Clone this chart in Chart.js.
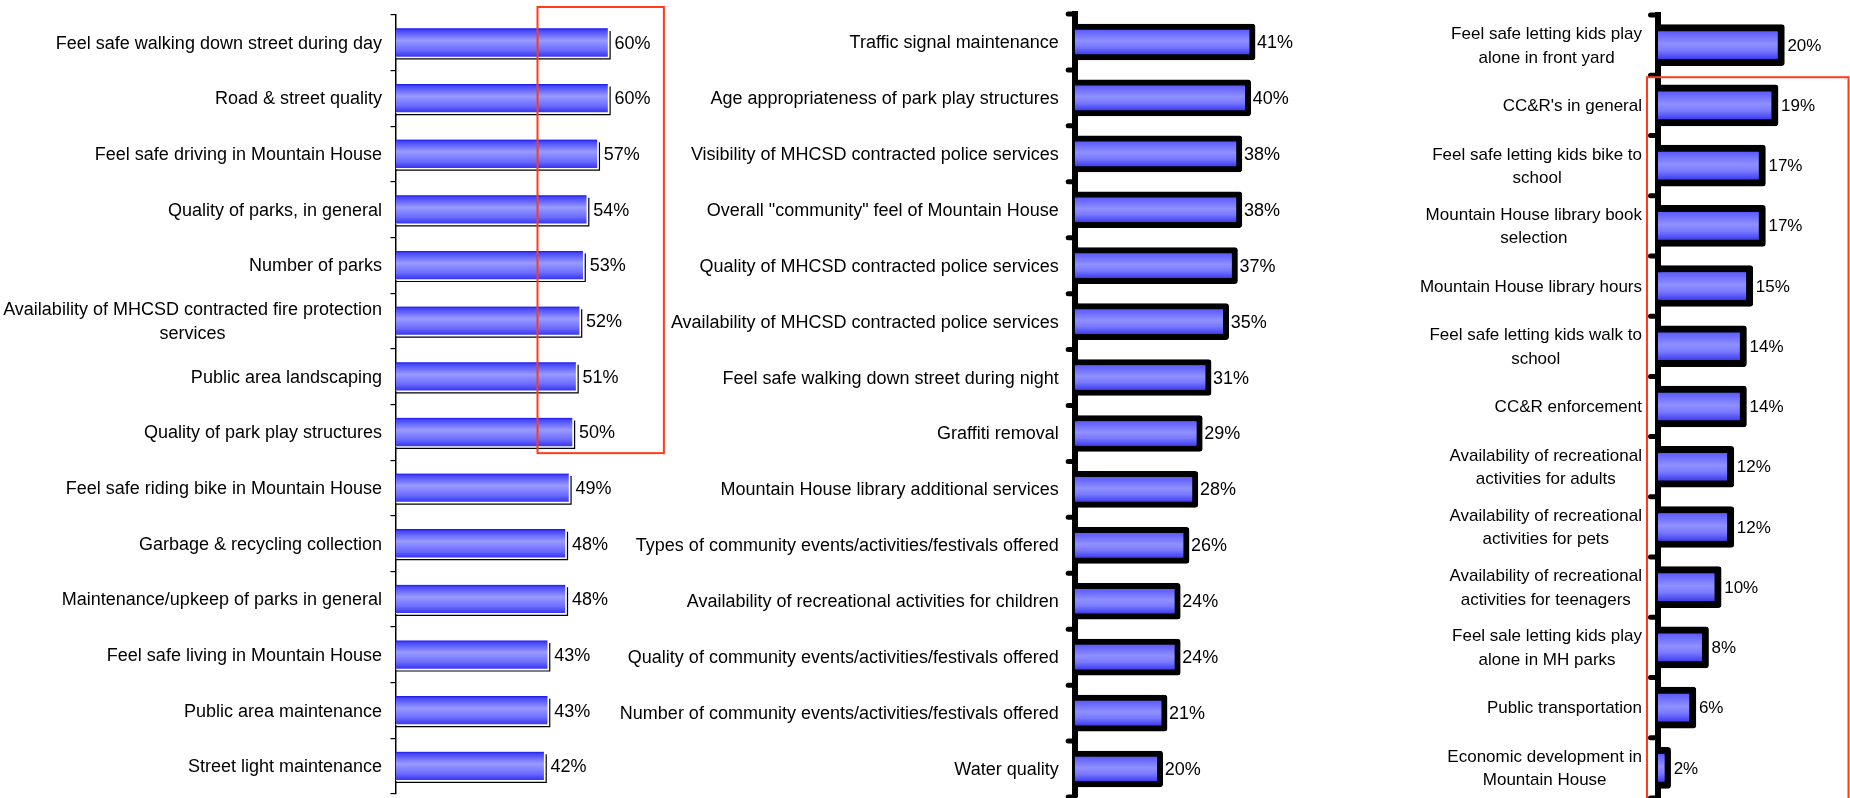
<!DOCTYPE html>
<html>
<head>
<meta charset="utf-8">
<title>Mountain House resident ratings</title>
<script src="https://cdn.jsdelivr.net/npm/chart.js@4.4.1/dist/chart.umd.min.js"></script>
<style>
  html, body { margin: 0; padding: 0; background: #fff; }
  body { width: 1850px; height: 798px; position: relative; overflow: hidden; }
  canvas { position: absolute; top: 0; }
</style>
</head>
<body>
<canvas id="chartLeft" width="700" height="798" style="left:0px"></canvas>
<canvas id="chartMid" width="800" height="798" style="left:560px"></canvas>
<canvas id="chartRight" width="470" height="798" style="left:1380px"></canvas>
<script>
// ---- data: share of respondents (%) per item, three panels ----
const leftLabels = [
  'Feel safe walking down street during day',
  'Road & street quality',
  'Feel safe driving in Mountain House',
  'Quality of parks, in general',
  'Number of parks',
  ['Availability of MHCSD contracted fire protection', 'services'],
  'Public area landscaping',
  'Quality of park play structures',
  'Feel safe riding bike in Mountain House',
  'Garbage & recycling collection',
  'Maintenance/upkeep of parks in general',
  'Feel safe living in Mountain House',
  'Public area maintenance',
  'Street light maintenance'
];
const leftValues = [60, 60, 57, 54, 53, 52, 51, 50, 49, 48, 48, 43, 43, 42];

const midLabels = [
  'Traffic signal maintenance',
  'Age appropriateness of park play structures',
  'Visibility of MHCSD contracted police services',
  'Overall "community" feel of Mountain House',
  'Quality of MHCSD contracted police services',
  'Availability of MHCSD contracted police services',
  'Feel safe walking down street during night',
  'Graffiti removal',
  'Mountain House library additional services',
  'Types of community events/activities/festivals offered',
  'Availability of recreational activities for children',
  'Quality of community events/activities/festivals offered',
  'Number of community events/activities/festivals offered',
  'Water quality'
];
const midValues = [41, 40, 38, 38, 37, 35, 31, 29, 28, 26, 24, 24, 21, 20];

const rightLabels = [
  ['Feel safe letting kids play', 'alone in front yard'],
  "CC&R's in general",
  ['Feel safe letting kids bike to', 'school'],
  ['Mountain House library book', 'selection'],
  'Mountain House library hours',
  ['Feel safe letting kids walk to', 'school'],
  'CC&R enforcement',
  ['Availability of recreational', 'activities for adults'],
  ['Availability of recreational', 'activities for pets'],
  ['Availability of recreational', 'activities for teenagers'],
  ['Feel sale letting kids play', 'alone in MH parks'],
  'Public transportation',
  ['Economic development in', 'Mountain House']
];
const rightValues = [20, 19, 17, 17, 15, 14, 14, 12, 12, 10, 8, 6, 2];

// ---- shared styling ----
const FONT = "'Liberation Sans', Arial, sans-serif";
const HIGHLIGHT = '#ff3b1a';

// vertical blue gradient across the visible fill of each bar
function barFill(thickness, inset, stops) {
  return (ctx) => {
    const chart = ctx.chart;
    const y = chart.scales && chart.scales.y;
    if (!chart.chartArea || !y) return '#8080ff';
    const c = y.getPixelForValue(ctx.dataIndex);
    const g = chart.ctx.createLinearGradient(0, c - thickness / 2 + inset, 0, c + thickness / 2 - inset);
    stops.forEach(([p, col]) => g.addColorStop(p, col));
    return g;
  };
}

// category names: each block right-aligned to the axis, wrapped lines centred within the block
const blockLabels = {
  id: 'blockLabels',
  afterDraw(chart, args, opts) {
    const ctx = chart.ctx;
    const y = chart.scales.y;
    const right = chart.chartArea.left - opts.gap;
    ctx.save();
    ctx.font = opts.size + 'px ' + FONT;
    ctx.fillStyle = '#000';
    ctx.textAlign = 'center';
    ctx.textBaseline = 'middle';
    chart.data.labels.forEach((label, i) => {
      const lines = Array.isArray(label) ? label : [label];
      const w = Math.max(...lines.map((t) => ctx.measureText(t).width));
      const cx = right - w / 2;
      const cy = y.getPixelForValue(i);
      lines.forEach((t, k) => {
        ctx.fillText(t, cx, cy + (k - (lines.length - 1) / 2) * opts.lineHeight + 1);
      });
    });
    ctx.restore();
  }
};

// value text just past the end of each bar
const valueLabels = {
  id: 'valueLabels',
  afterDatasetsDraw(chart, args, opts) {
    const ctx = chart.ctx;
    const meta = chart.getDatasetMeta(0);
    const data = chart.data.datasets[0].data;
    ctx.save();
    ctx.font = opts.size + 'px ' + FONT;
    ctx.fillStyle = '#000';
    ctx.textAlign = 'left';
    ctx.textBaseline = 'middle';
    meta.data.forEach((bar, i) => ctx.fillText(data[i] + '%', bar.x + opts.gap, bar.y + 1));
    ctx.restore();
  }
};

// thin drop shadow line under / right of the outlined bars
const barShadow = {
  id: 'barShadow',
  afterDatasetsDraw(chart, args, opts) {
    if (!opts.offset) return;
    const ctx = chart.ctx;
    const meta = chart.getDatasetMeta(0);
    ctx.save();
    ctx.strokeStyle = '#000';
    ctx.lineWidth = 1.2;
    meta.data.forEach((bar) => {
      const h = bar.height / 2;
      const right = bar.x + opts.offset;
      const bottom = bar.y + h + opts.offset;
      ctx.beginPath();
      ctx.moveTo(bar.base, bottom);
      ctx.lineTo(right, bottom);
      ctx.lineTo(right, bar.y - h + opts.offset + 1);
      ctx.stroke();
    });
    ctx.restore();
  }
};

// rounded tick stubs on the category boundaries of the heavy axes
const roundTicks = {
  id: 'roundTicks',
  afterDraw(chart, args, opts) {
    if (!opts.length) return;
    const ctx = chart.ctx;
    const y = chart.scales.y;
    const x0 = chart.chartArea.left;
    const n = chart.data.labels.length;
    ctx.save();
    ctx.strokeStyle = '#000';
    ctx.lineWidth = opts.width;
    ctx.lineCap = 'round';
    for (let i = 0; i <= n; i++) {
      const py = y.getPixelForValue(i - 0.5);
      ctx.beginPath();
      ctx.moveTo(x0 - opts.length + opts.width / 2, py);
      ctx.lineTo(x0, py);
      ctx.stroke();
    }
    ctx.restore();
  }
};

// red outline around a group of items
const highlightBox = {
  id: 'highlightBox',
  afterDraw(chart, args, opts) {
    if (!opts.rect) return;
    const r = opts.rect(chart);
    const ctx = chart.ctx;
    ctx.save();
    ctx.strokeStyle = HIGHLIGHT;
    ctx.lineWidth = 2;
    ctx.strokeRect(r.left, r.top, r.right - r.left, r.bottom - r.top);
    ctx.restore();
  }
};

function makeChart(id, cfg) {
  return new Chart(document.getElementById(id), {
    type: 'bar',
    data: {
      labels: cfg.labels,
      datasets: [{
        data: cfg.values,
        backgroundColor: cfg.fill,
        borderColor: cfg.borderColor || '#000',
        borderWidth: cfg.borderWidth,
        borderSkipped: 'start',
        borderRadius: cfg.radius || 0,
        barThickness: cfg.thickness
      }]
    },
    options: {
      indexAxis: 'y',
      responsive: false,
      animation: false,
      events: [],
      layout: { padding: cfg.padding, autoPadding: false },
      scales: {
        x: { type: 'linear', display: false, min: 0, max: cfg.max },
        y: {
          type: 'category',
          position: 'left',
          offset: true,
          z: cfg.axisZ || 0,
          afterFit: (s) => {
            // fixed axis position
            s.width = cfg.axisX;
            s.paddingTop = 0;
            s.paddingBottom = 0;
          },
          border: { display: true, color: '#000', width: cfg.axisWidth },
          grid: {
            display: true,
            drawOnChartArea: false,
            drawTicks: true,
            offset: true,
            tickLength: cfg.tickLength,
            color: cfg.tickColor,
            lineWidth: 1.2,
            tickWidth: 1.2
          },
          ticks: { display: false, autoSkip: false }
        }
      },
      plugins: {
        legend: { display: false },
        tooltip: { enabled: false },
        blockLabels: { size: cfg.fontSize, lineHeight: cfg.lineHeight, gap: cfg.labelGap },
        valueLabels: { size: cfg.fontSize, gap: cfg.valueGap },
        barShadow: { offset: cfg.shadow || 0 },
        roundTicks: cfg.roundTicks || {},
        highlightBox: { rect: cfg.box }
      }
    },
    plugins: [barShadow, valueLabels, roundTicks, blockLabels, highlightBox]
  });
}

// panel 1: thin axis, outlined bars with a drop shadow
makeChart('chartLeft', {
  labels: leftLabels, values: leftValues,
  fill: barFill(29, 0, [[0, '#1616e6'], [0.08, '#4848ff'], [0.42, '#9a9aff'], [0.75, '#6c6cff'], [1, '#3030ee']]),
  borderColor: '#ffffff',
  borderWidth: { top: 0, right: 1, bottom: 1, left: 0 },
  shadow: 1.6,
  thickness: 29, max: 80,
  padding: { top: 15, bottom: 4, left: 0, right: 20.5 },
  axisX: 395.5, axisWidth: 1.5,
  tickLength: 5, tickColor: '#000', labelGap: 13.5,
  fontSize: 18, lineHeight: 23.4, valueGap: 6,
  box: (chart) => {
    const x = chart.scales.x, y = chart.scales.y;
    return {
      left: x.getPixelForValue(40), right: x.getPixelForValue(75.6),
      top: y.getPixelForValue(-0.5) - 8, bottom: y.getPixelForValue(7.5) - 7
    };
  }
});

// panel 2: heavy axis, heavy-bordered bars
makeChart('chartMid', {
  labels: midLabels, values: midValues,
  fill: barFill(36, 6, [[0, '#5c5cff'], [0.45, '#9090ff'], [0.7, '#7a7aff'], [1, '#4040f0']]),
  borderWidth: 6, radius: 3,
  thickness: 36, max: 60,
  padding: { top: 14, bottom: 1, left: 0, right: 21.3 },
  axisX: 514.7, axisWidth: 6, axisZ: 1,
  tickLength: 9, tickColor: 'rgba(0,0,0,0)', labelGap: 16,
  roundTicks: { length: 9, width: 5 },
  fontSize: 18, lineHeight: 23.4, valueGap: 2
});

// panel 3: heavy axis, wrapped labels
makeChart('chartRight', {
  labels: rightLabels, values: rightValues,
  fill: barFill(41, 7, [[0, '#5c5cff'], [0.45, '#9090ff'], [0.7, '#7a7aff'], [1, '#4040f0']]),
  borderWidth: 7, radius: 3,
  thickness: 41, max: 30,
  padding: { top: 15, bottom: 0, left: 0, right: 2.4 },
  axisX: 278, axisWidth: 6, axisZ: 1,
  tickLength: 10, tickColor: 'rgba(0,0,0,0)', labelGap: 16,
  roundTicks: { length: 10, width: 5 },
  fontSize: 17, lineHeight: 23.4, valueGap: 3,
  box: (chart) => {
    const y = chart.scales.y;
    return {
      left: chart.chartArea.left - 11, right: chart.width - 1.5,
      top: y.getPixelForValue(0.5) + 2, bottom: chart.height + 10
    };
  }
});
</script>
</body>
</html>
